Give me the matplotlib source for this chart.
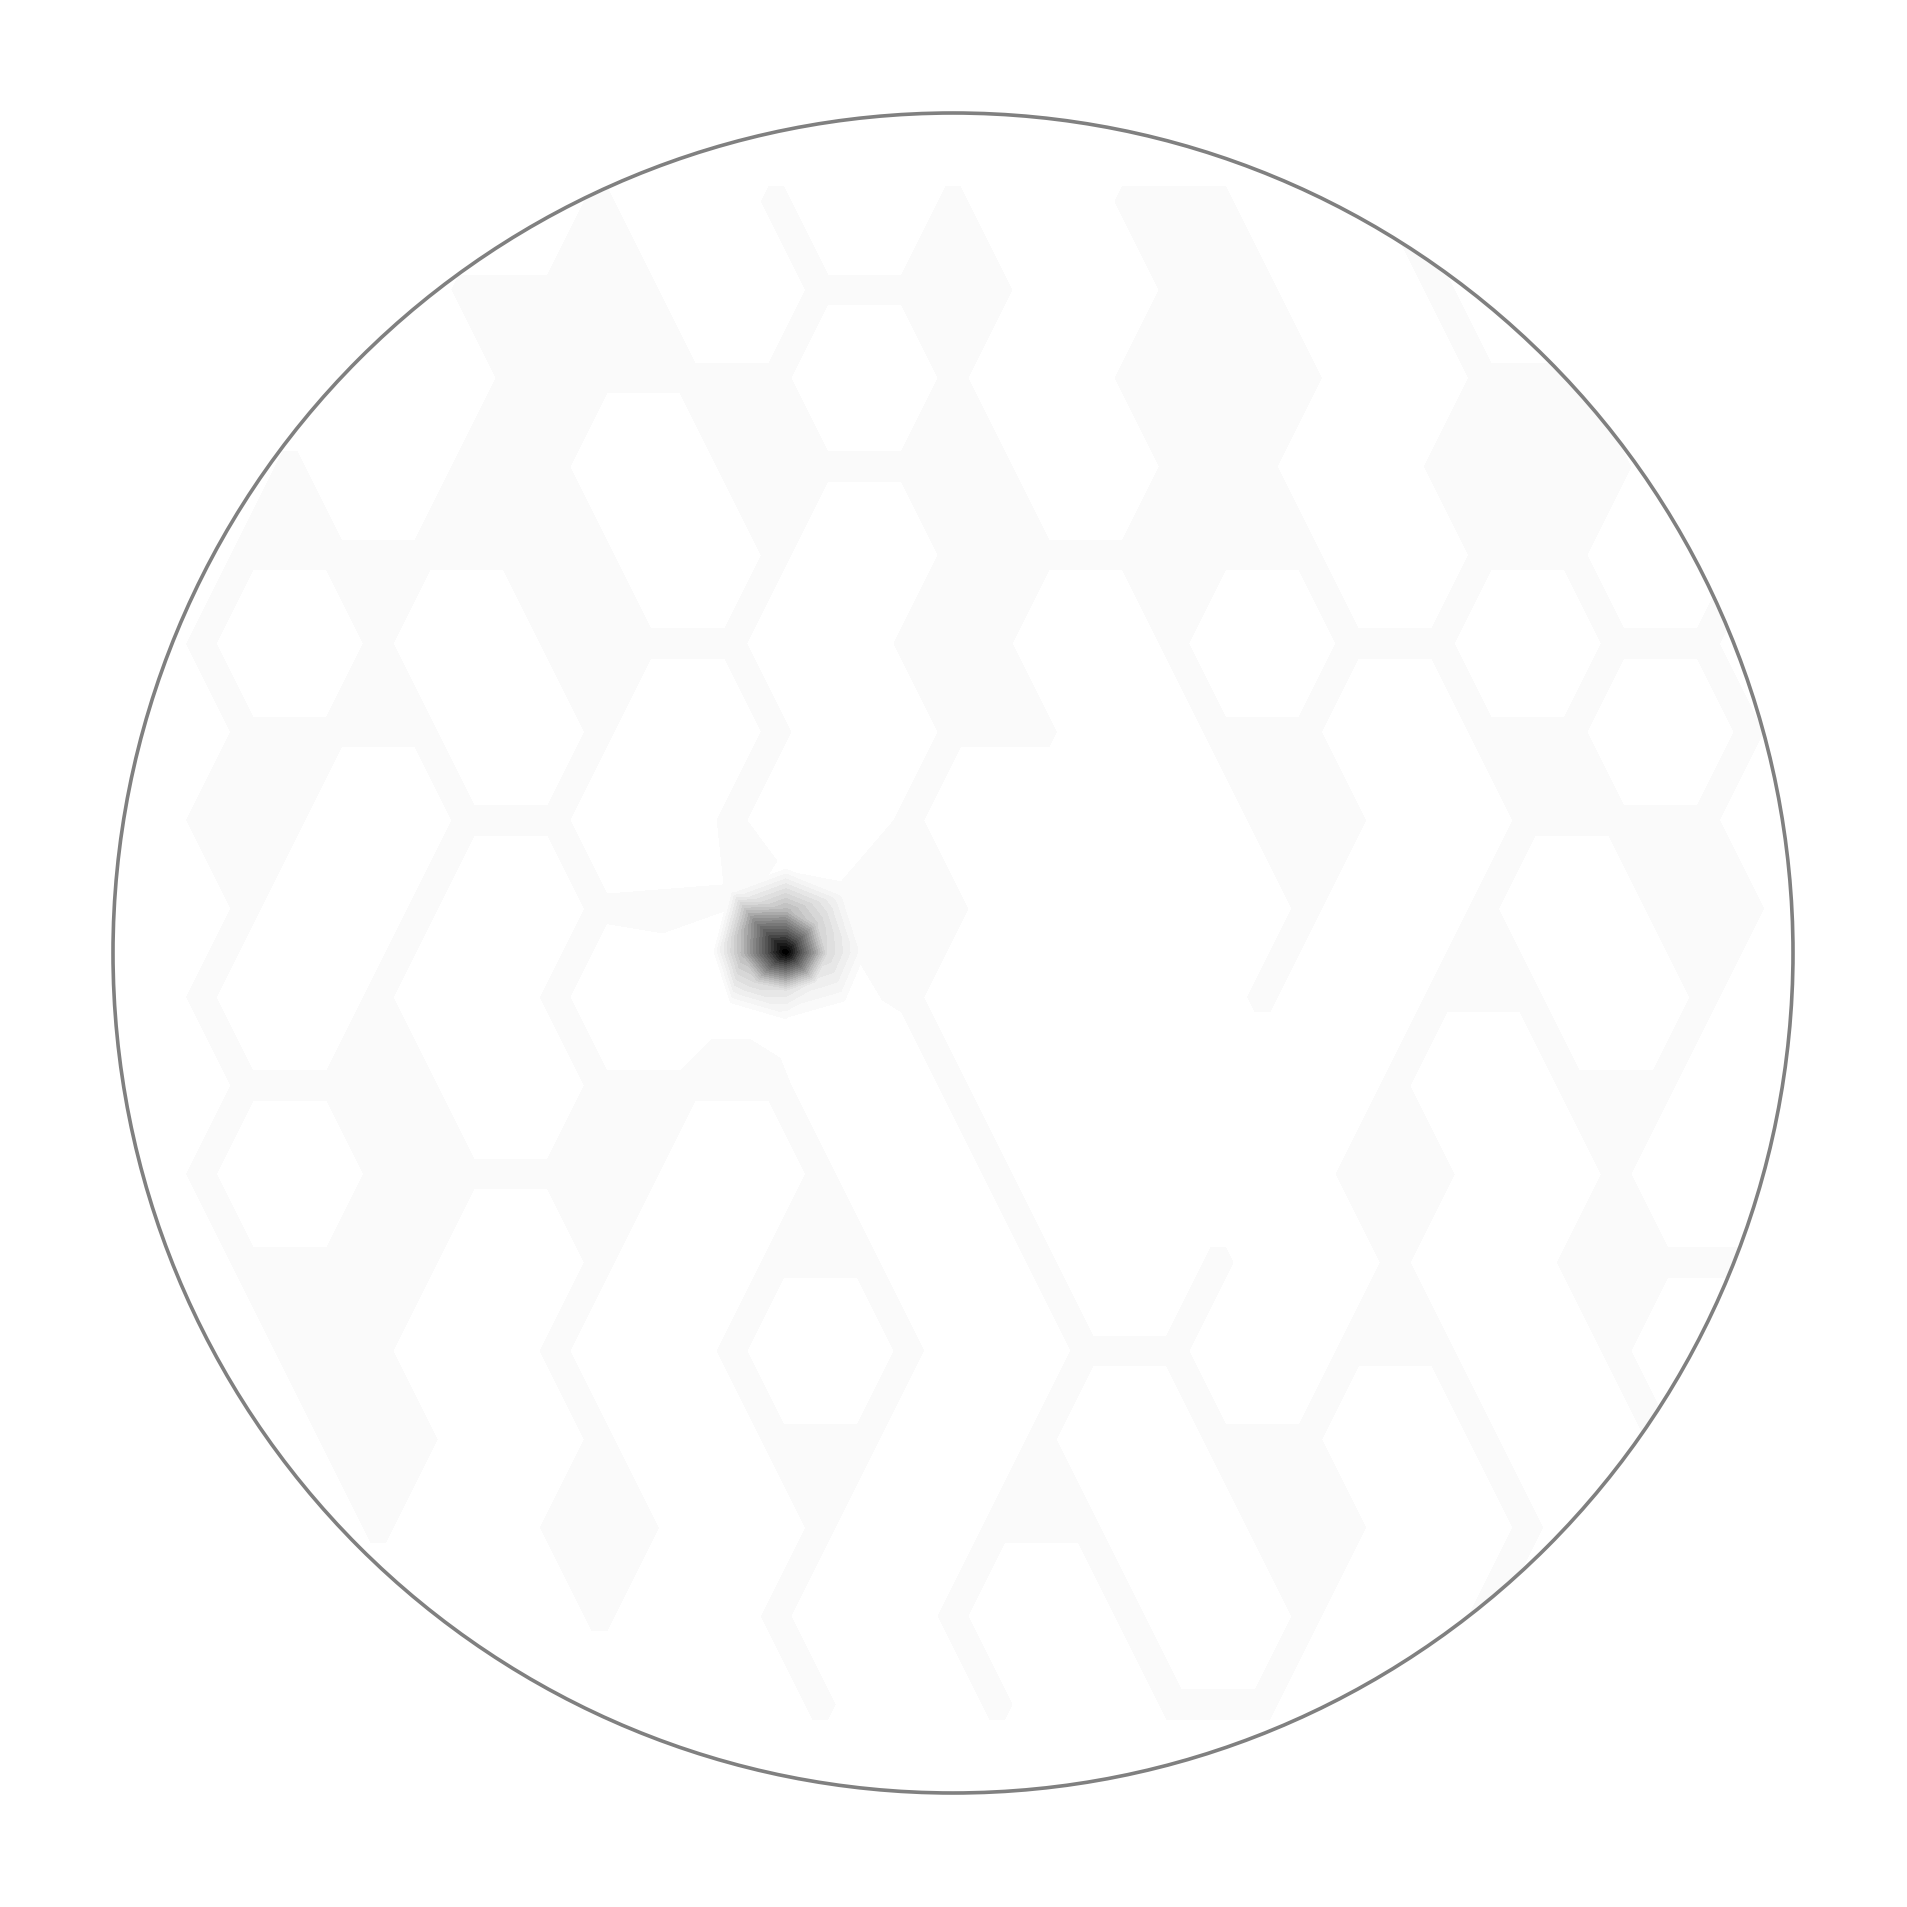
import numpy as np
import matplotlib
matplotlib.use("Agg")
from matplotlib import pyplot as plt
from matplotlib.patches import Circle
from matplotlib.colors import Normalize
import matplotlib.tri as mtri

# faint background level, on a 20x20 grid over [-1, 1]^2
# '1' = light grey patch, '0' = white (top row first, odd rows offset by half a step)
bg_rows = [
    "00000000000000000000",
    "00000101010110100000",
    "00001110111011010000",
    "00001111010111011000",
    "00101101111011011100",
    "01111101011111011010",
    "01010111011010110110",
    "01110101011011011010",
    "01101101010001101110",
    "01010111010001010110",
    "01010101010001011010",
    "01110111010000101101",
    "01011110101000110100",
    "01110101101010101110",
    "00110101010110110100",
    "00110101101011010100",
    "00010110101101101000",
    "00000101010101010000",
    "00000000101011000000",
    "00000000000000000000",
]
bg_low = 0.0
bg_high = 0.05

# the single hot spot: centre value plus an inner and an outer ring
peak_x = [-0.199,
          -0.235, -0.199, -0.250, -0.150, -0.199, -0.163, -0.235, -0.163,
          -0.285, -0.265, -0.199, -0.128, -0.105, -0.128, -0.199, -0.265]
peak_y = [0.001,
          0.037, 0.050, 0.000, 0.000, -0.045, 0.035, -0.035, -0.035,
          0.001, 0.075, 0.100, 0.070, 0.001, -0.060, -0.080, -0.060]
peak_v = [1.00,
          0.55, 0.40, 0.40, 0.25, 0.20, 0.30, 0.25, 0.15,
          0.035, 0.045, 0.040, 0.050, 0.045, 0.030, 0.030, 0.035]

### ~~~~~~~ build points ~~~~~~~ ###
n = len(bg_rows)
step = 2.0 / (n - 1)
x, y, z = [], [], []
for j, row in enumerate(bg_rows):
    for i, c in enumerate(row):
        px = -1 + i * step + (j % 2) * step / 2
        py = 1 - j * step
        # leave room for the hot spot's own points
        if np.hypot(px - peak_x[0], py - peak_y[0]) < 0.14:
            continue
        x.append(px)
        y.append(py)
        z.append(bg_high if c == "1" else bg_low)
# close the left edge of the shifted rows
for j in range(1, n, 2):
    x.append(-1.0)
    y.append(1 - j * step)
    z.append(bg_low)

x = np.concatenate([x, peak_x])
y = np.concatenate([y, peak_y])
z = np.concatenate([z, peak_v])

### ~~~~~~~ plotting ~~~~~~~ ###
fig = plt.figure(figsize=(19.08, 19.07), dpi=100)
ax = fig.add_axes([0, 0, 1, 1])
ax.set_xlim(-953 / 840, 955 / 840)
ax.set_ylim(-954 / 840, 953 / 840)
ax.axis("off")

levels = np.linspace(0, 1, 25)
tri = mtri.Triangulation(x, y)
cs = ax.tricontourf(tri, z, levels=levels, cmap="Greys",
                    norm=Normalize(vmin=levels[1] / 2, vmax=1 - levels[1] / 2))

rim = Circle((0, 0), 1.0, fill=False, ec="#808080", lw=2.6, zorder=3)
ax.add_patch(rim)
clip = Circle((0, 0), 1.0, transform=ax.transData)
cs.set_clip_path(clip)

fig.savefig("out.png", dpi=100, facecolor="white")
